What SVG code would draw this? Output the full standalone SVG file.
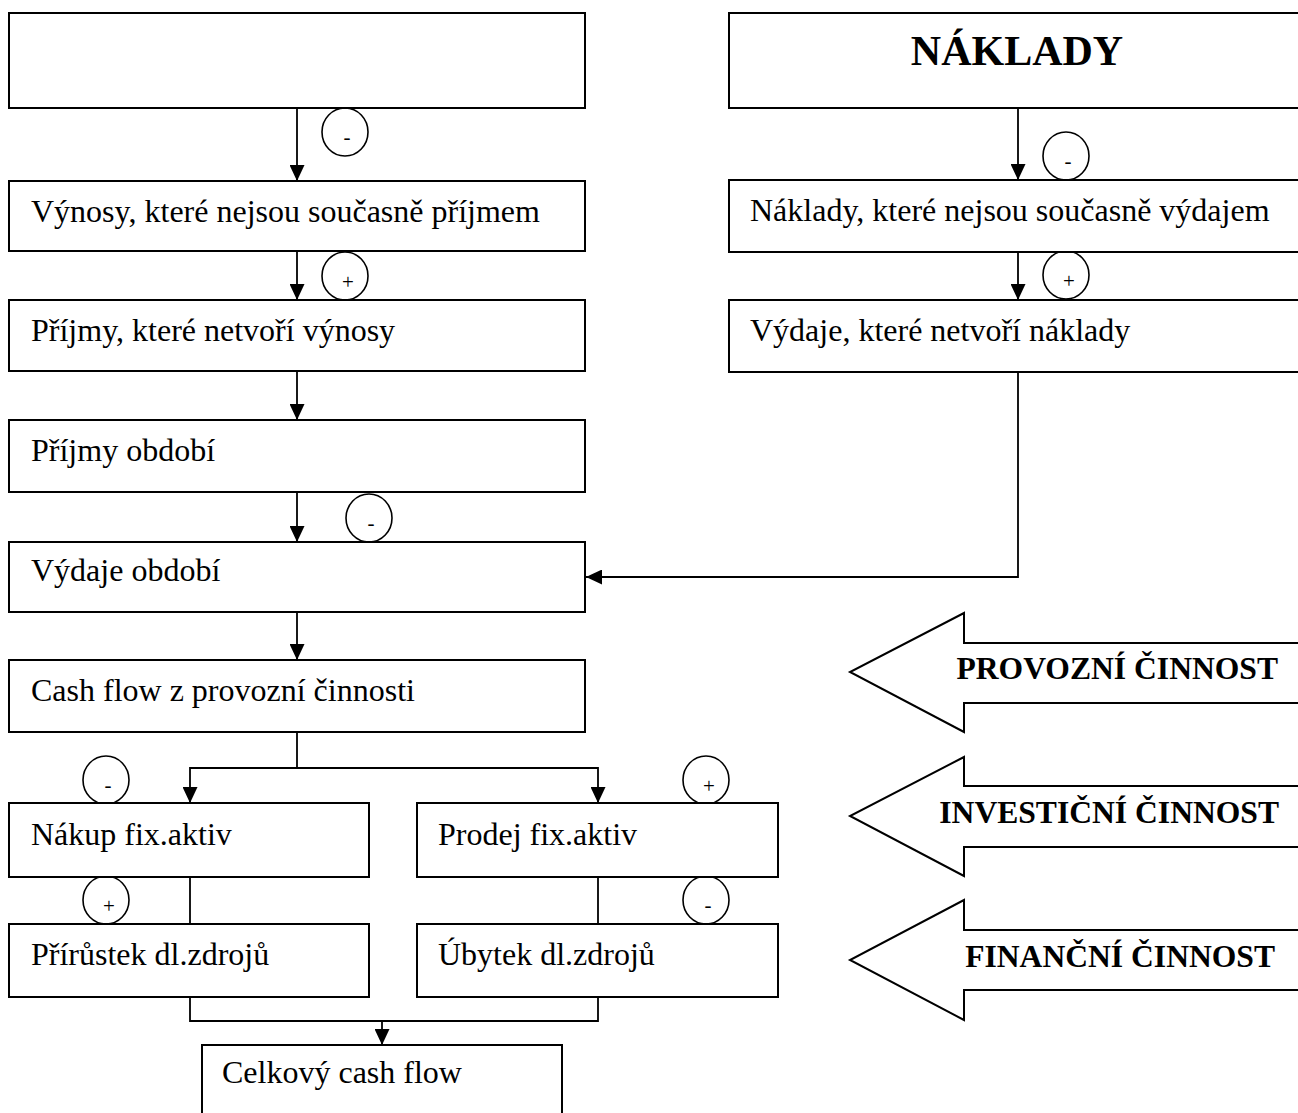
<svg xmlns="http://www.w3.org/2000/svg" width="1298" height="1113" viewBox="0 0 1298 1113">
<style>
.box{fill:#fff;stroke:#000;stroke-width:2}
.t{font-family:"Liberation Serif","Times New Roman",serif;font-size:32px;fill:#000}
.b{font-family:"Liberation Serif","Times New Roman",serif;font-weight:bold;fill:#000}
.c{fill:#fff;stroke:#000;stroke-width:1.6}
.s{font-family:"Liberation Serif","Times New Roman",serif;font-size:21px;fill:#000;text-anchor:middle}
.ln{fill:none;stroke:#000;stroke-width:1.8}
.big{fill:#fff;stroke:#000;stroke-width:2}
</style>
<defs>
<marker id="ah" markerUnits="userSpaceOnUse" markerWidth="16" markerHeight="15" refX="16" refY="7.5" orient="auto">
<path d="M0,0 L16,7.5 L0,15 Z" fill="#000"/>
</marker>
</defs>
<rect width="1298" height="1113" fill="#fff"/>

<g id="connectors">
<path class="ln" d="M297,108 V181" marker-end="url(#ah)"/>
<path class="ln" d="M297,251 V300" marker-end="url(#ah)"/>
<path class="ln" d="M297,371 V420" marker-end="url(#ah)"/>
<path class="ln" d="M297,492 V542" marker-end="url(#ah)"/>
<path class="ln" d="M297,612 V660" marker-end="url(#ah)"/>
<path class="ln" d="M1018,108 V180" marker-end="url(#ah)"/>
<path class="ln" d="M1018,252 V300" marker-end="url(#ah)"/>
<path class="ln" d="M1018,372 V577 H586" marker-end="url(#ah)"/>
<path class="ln" d="M297,732 V768 H190 V803" marker-end="url(#ah)"/>
<path class="ln" d="M297,768 H598 V803" marker-end="url(#ah)"/>
<path class="ln" d="M190,877 V924"/>
<path class="ln" d="M598,877 V924"/>
<path class="ln" d="M190,997 V1021 H598 V997"/>
<path class="ln" d="M382,1021 V1045" marker-end="url(#ah)"/>
</g>

<g id="signs">
<g id="sign1"><ellipse class="c" cx="345" cy="132" rx="23" ry="24"/><text class="s" x="347" y="144">-</text></g>
<g id="sign2"><ellipse class="c" cx="345" cy="276" rx="23" ry="24"/><text class="s" x="348" y="289">+</text></g>
<g id="sign3"><ellipse class="c" cx="1066" cy="156" rx="23" ry="24"/><text class="s" x="1068" y="168">-</text></g>
<g id="sign4"><ellipse class="c" cx="1066" cy="275" rx="23" ry="24"/><text class="s" x="1069" y="288">+</text></g>
<g id="sign5"><ellipse class="c" cx="369" cy="518" rx="23" ry="24"/><text class="s" x="371" y="530">-</text></g>
<g id="sign6"><ellipse class="c" cx="106" cy="780" rx="23" ry="24"/><text class="s" x="108" y="792">-</text></g>
<g id="sign7"><ellipse class="c" cx="706" cy="780" rx="23" ry="24"/><text class="s" x="709" y="793">+</text></g>
<g id="sign8"><ellipse class="c" cx="106" cy="900" rx="23" ry="24"/><text class="s" x="109" y="913">+</text></g>
<g id="sign9"><ellipse class="c" cx="706" cy="900" rx="23" ry="24"/><text class="s" x="708" y="912">-</text></g>
</g>

<g id="nodeA"><rect class="box" x="9" y="13" width="576" height="95"/></g>
<g id="nodeB"><rect class="box" x="9" y="181" width="576" height="70"/><text class="t" x="31" y="222">Výnosy, které nejsou současně příjmem</text></g>
<g id="nodeC"><rect class="box" x="9" y="300" width="576" height="71"/><text class="t" x="31" y="341">Příjmy, které netvoří výnosy</text></g>
<g id="nodeD"><rect class="box" x="9" y="420" width="576" height="72"/><text class="t" x="31" y="461">Příjmy období</text></g>
<g id="nodeE"><rect class="box" x="9" y="542" width="576" height="70"/><text class="t" x="31" y="581">Výdaje období</text></g>
<g id="nodeF"><rect class="box" x="9" y="660" width="576" height="72"/><text class="t" x="31" y="701">Cash flow z provozní činnosti</text></g>

<g id="nodeR1"><rect class="box" x="729" y="13" width="580" height="95"/><text class="b" x="1017" y="65" font-size="42" text-anchor="middle">NÁKLADY</text></g>
<g id="nodeR2"><rect class="box" x="729" y="180" width="580" height="72"/><text class="t" x="750" y="221">Náklady, které nejsou současně výdajem</text></g>
<g id="nodeR3"><rect class="box" x="729" y="300" width="580" height="72"/><text class="t" x="750" y="341">Výdaje, které netvoří náklady</text></g>

<g id="nodeG"><rect class="box" x="9" y="803" width="360" height="74"/><text class="t" x="31" y="845">Nákup fix.aktiv</text></g>
<g id="nodeH"><rect class="box" x="417" y="803" width="361" height="74"/><text class="t" x="438" y="845">Prodej fix.aktiv</text></g>
<g id="nodeI"><rect class="box" x="9" y="924" width="360" height="73"/><text class="t" x="31" y="965">Přírůstek dl.zdrojů</text></g>
<g id="nodeJ"><rect class="box" x="417" y="924" width="361" height="73"/><text class="t" x="438" y="965">Úbytek dl.zdrojů</text></g>
<g id="nodeK"><rect class="box" x="202" y="1045" width="360" height="90"/><text class="t" x="222" y="1083">Celkový cash flow</text></g>

<g id="arrow1"><path class="big" d="M1302,643 H964 V613 L850,672 L964,732 V703 H1302"/><text class="b" x="1278" y="679" font-size="31.6" text-anchor="end">PROVOZNÍ ČINNOST</text></g>
<g id="arrow2"><path class="big" d="M1302,786 H964 V757 L850,816 L964,876 V847 H1302"/><text class="b" x="1279" y="823" font-size="31.6" text-anchor="end">INVESTIČNÍ ČINNOST</text></g>
<g id="arrow3"><path class="big" d="M1302,930 H964 V900 L850,960 L964,1020 V990 H1302"/><text class="b" x="1275" y="967" font-size="31.6" text-anchor="end">FINANČNÍ ČINNOST</text></g>
</svg>
